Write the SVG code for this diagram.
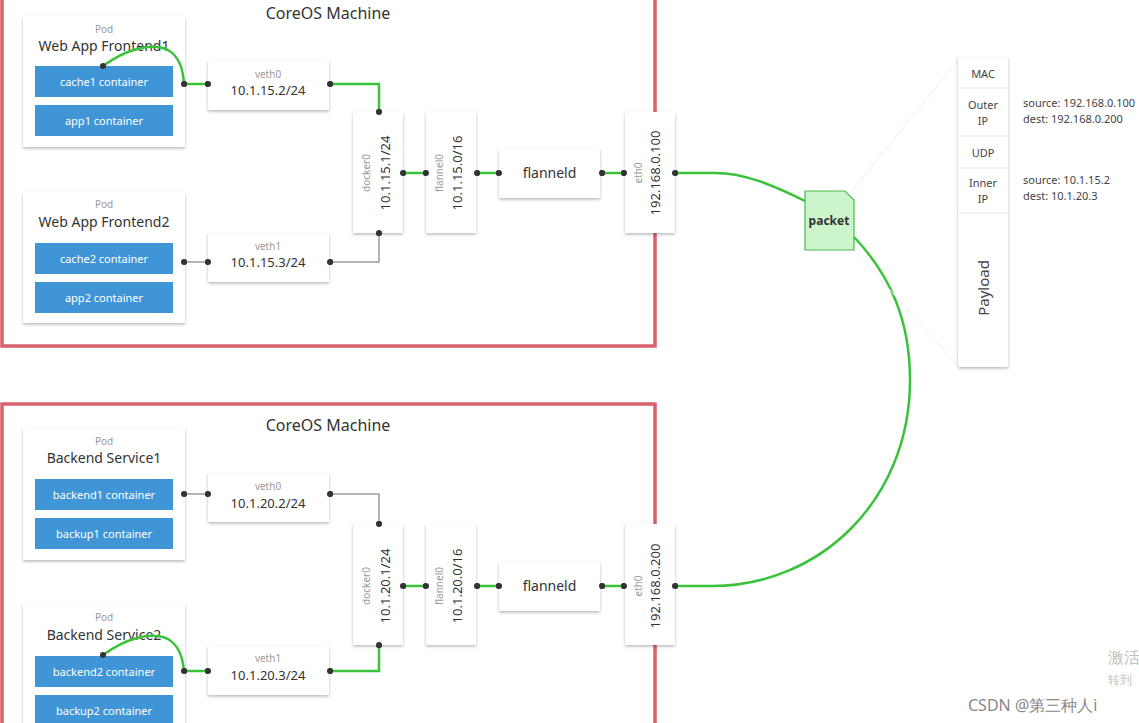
<svg xmlns="http://www.w3.org/2000/svg" width="1139" height="723" viewBox="0 0 1139 723">
<defs>
<filter id="sh" x="-20%" y="-20%" width="140%" height="140%">
<feDropShadow dx="0" dy="1.5" stdDeviation="1.5" flood-color="#000" flood-opacity="0.28"/>
</filter>
<style>
text{font-family:"Noto Sans","Open Sans","Liberation Sans",sans-serif;}
.machine{fill:none;stroke:#d9606c;stroke-width:3.5;}
.title{font-size:16px;fill:#333;text-anchor:middle;}
.box{fill:#fff;filter:url(#sh);}
.pod{fill:#fff;filter:url(#sh);}
.small{font-size:10px;fill:#9a9a9a;text-anchor:middle;}
.name{font-size:14px;fill:#333;text-anchor:middle;}
.ip{font-size:13px;fill:#333;text-anchor:middle;}
.cont{fill:#3f95d6;}
.ct{font-size:11px;fill:#fff;text-anchor:middle;}
.g{fill:none;stroke:#3bc23b;stroke-width:2.5;}
.k{fill:none;stroke:#666;stroke-width:1;}
.dot{fill:#333;}
.pk{font-size:11px;fill:#444;text-anchor:middle;}
.info{font-size:11px;fill:#444;}
.sep{stroke:#e6e6e6;stroke-width:1;}
.faint{stroke:#eeeeee;stroke-width:1;fill:none;}
</style>
</defs>
<rect width="1139" height="723" fill="#fff"/>

<!-- machines -->
<g id="machine1">
<rect class="machine" x="2" y="-10" width="653" height="356"/>
<text class="title" x="328" y="19">CoreOS Machine</text>
</g>
<g id="machine2">
<rect class="machine" x="2" y="404" width="653" height="340"/>
<text class="title" x="328" y="431">CoreOS Machine</text>
</g>

<!-- connectors -->
<g id="connectors">
<path class="g" d="M103,66 C125,50 150,42 168,50 C180,57 183,70 184,84 L208,84"/>
<path class="g" d="M330,84 L379,84 L379,112"/>
<path class="k" d="M184,262 L208,262"/>
<path class="k" d="M330,262 L379,262 L379,233"/>
<path class="g" d="M403,173 L426,173 M477,173 L499,173 M602,173 L624,173"/>
<path class="g" d="M675,173 L715,173 C745,173 775,186 805,201"/>
<path class="g" d="M854,237 C890,275 910,320 910,380 C910,500 820,586 712,586 L675,586"/>
<path class="faint" d="M851,192 L958,60 M854,250 L958,366"/>
<path class="k" d="M184,494 L208,494"/>
<path class="k" d="M330,494 L379,494 L379,524"/>
<path class="g" d="M403,586 L426,586 M477,586 L499,586 M602,586 L624,586"/>
<path class="g" d="M103,655 C125,639 150,631 168,639 C180,646 183,659 184,671 L208,671"/>
<path class="g" d="M330,671 L379,671 L379,645"/>
<g class="dot">
<circle cx="103" cy="66" r="3"/><circle cx="184" cy="84" r="3"/><circle cx="208" cy="84" r="3"/>
<circle cx="330" cy="84" r="3"/><circle cx="379" cy="112" r="3"/>
<circle cx="184" cy="262" r="3"/><circle cx="208" cy="262" r="3"/><circle cx="330" cy="262" r="3"/><circle cx="379" cy="233" r="3"/>
<circle cx="403" cy="173" r="3"/><circle cx="426" cy="173" r="3"/><circle cx="477" cy="173" r="3"/><circle cx="499" cy="173" r="3"/>
<circle cx="602" cy="173" r="3"/><circle cx="624" cy="173" r="3"/><circle cx="675" cy="173" r="3"/>
<circle cx="184" cy="494" r="3"/><circle cx="208" cy="494" r="3"/><circle cx="330" cy="494" r="3"/><circle cx="379" cy="524" r="3"/>
<circle cx="403" cy="586" r="3"/><circle cx="426" cy="586" r="3"/><circle cx="477" cy="586" r="3"/><circle cx="499" cy="586" r="3"/>
<circle cx="602" cy="586" r="3"/><circle cx="624" cy="586" r="3"/><circle cx="675" cy="586" r="3"/>
<circle cx="103" cy="655" r="3"/><circle cx="184" cy="671" r="3"/><circle cx="208" cy="671" r="3"/><circle cx="330" cy="671" r="3"/><circle cx="379" cy="645" r="3"/>
</g>
</g>

<!-- top machine nodes -->
<g id="pod-frontend1">
<rect class="pod" x="23" y="16" width="162" height="131"/>
<text class="small" x="104" y="33">Pod</text>
<text class="name" x="104" y="51">Web App Frontend1</text>
<rect class="cont" x="35" y="66" width="138" height="31"/>
<text class="ct" x="104" y="85.5">cache1 container</text>
<rect class="cont" x="35" y="105" width="138" height="31"/>
<text class="ct" x="104" y="124.5">app1 container</text>
</g>
<path class="g" d="M103,66 C125,50 150,42 168,50 C180,57 183,70 184,84"/>
<circle class="dot" cx="103" cy="66" r="3"/><circle class="dot" cx="184" cy="84" r="3"/>

<g id="pod-frontend2">
<rect class="pod" x="23" y="192" width="162" height="131"/>
<text class="small" x="104" y="208">Pod</text>
<text class="name" x="104" y="227">Web App Frontend2</text>
<rect class="cont" x="35" y="243" width="138" height="31"/>
<text class="ct" x="104" y="262.5">cache2 container</text>
<rect class="cont" x="35" y="282" width="138" height="31"/>
<text class="ct" x="104" y="301.5">app2 container</text>
</g>
<circle class="dot" cx="184" cy="262" r="3"/>

<g id="veth0-a">
<rect class="box" x="208" y="61" width="121" height="49"/>
<text class="small" x="268" y="78">veth0</text>
<text class="ip" x="268" y="95">10.1.15.2/24</text>
</g>
<g id="veth1-a">
<rect class="box" x="208" y="233" width="121" height="49"/>
<text class="small" x="268" y="250">veth1</text>
<text class="ip" x="268" y="267">10.1.15.3/24</text>
</g>
<g id="docker0-a">
<rect class="box" x="353" y="112" width="50" height="121"/>
<text class="small" transform="translate(366,173) rotate(-90)" dominant-baseline="central">docker0</text>
<text class="ip" transform="translate(385,173) rotate(-90)" dominant-baseline="central">10.1.15.1/24</text>
</g>
<g id="flannel0-a">
<rect class="box" x="426" y="112" width="50" height="121"/>
<text class="small" transform="translate(439,173) rotate(-90)" dominant-baseline="central">flannel0</text>
<text class="ip" transform="translate(457,173) rotate(-90)" dominant-baseline="central">10.1.15.0/16</text>
</g>
<g id="flanneld-a">
<rect class="box" x="499" y="149" width="101" height="49"/>
<text class="name" x="549.5" y="178">flanneld</text>
</g>
<g id="eth0-a">
<rect class="box" x="625" y="112" width="50" height="121"/>
<text class="small" transform="translate(638,173) rotate(-90)" dominant-baseline="central">eth0</text>
<text class="ip" transform="translate(655,173) rotate(-90)" dominant-baseline="central">192.168.0.100</text>
</g>

<!-- bottom machine nodes -->
<g id="pod-backend1">
<rect class="pod" x="23" y="429" width="162" height="131"/>
<text class="small" x="104" y="445">Pod</text>
<text class="name" x="104" y="463">Backend Service1</text>
<rect class="cont" x="35" y="479" width="138" height="31"/>
<text class="ct" x="104" y="498.5">backend1 container</text>
<rect class="cont" x="35" y="518" width="138" height="31"/>
<text class="ct" x="104" y="537.5">backup1 container</text>
</g>
<circle class="dot" cx="184" cy="494" r="3"/>
<g id="pod-backend2">
<rect class="pod" x="23" y="604" width="162" height="131"/>
<text class="small" x="104" y="621">Pod</text>
<text class="name" x="104" y="640">Backend Service2</text>
<rect class="cont" x="35" y="656" width="138" height="31"/>
<text class="ct" x="104" y="675.5">backend2 container</text>
<rect class="cont" x="35" y="695" width="138" height="31"/>
<text class="ct" x="104" y="714.5">backup2 container</text>
</g>
<path class="g" d="M103,655 C125,639 150,631 168,639 C180,646 183,659 184,671"/>
<circle class="dot" cx="103" cy="655" r="3"/><circle class="dot" cx="184" cy="671" r="3"/>

<g id="veth0-b">
<rect class="box" x="208" y="473" width="121" height="49"/>
<text class="small" x="268" y="490">veth0</text>
<text class="ip" x="268" y="508">10.1.20.2/24</text>
</g>
<g id="veth1-b">
<rect class="box" x="208" y="646" width="121" height="49"/>
<text class="small" x="268" y="662">veth1</text>
<text class="ip" x="268" y="680">10.1.20.3/24</text>
</g>
<g id="docker0-b">
<rect class="box" x="353" y="524" width="50" height="121"/>
<text class="small" transform="translate(366,586) rotate(-90)" dominant-baseline="central">docker0</text>
<text class="ip" transform="translate(385,586) rotate(-90)" dominant-baseline="central">10.1.20.1/24</text>
</g>
<g id="flannel0-b">
<rect class="box" x="426" y="524" width="50" height="121"/>
<text class="small" transform="translate(439,586) rotate(-90)" dominant-baseline="central">flannel0</text>
<text class="ip" transform="translate(457,586) rotate(-90)" dominant-baseline="central">10.1.20.0/16</text>
</g>
<g id="flanneld-b">
<rect class="box" x="499" y="562" width="101" height="49"/>
<text class="name" x="549.5" y="591">flanneld</text>
</g>
<g id="eth0-b">
<rect class="box" x="625" y="524" width="50" height="121"/>
<text class="small" transform="translate(638,586) rotate(-90)" dominant-baseline="central">eth0</text>
<text class="ip" transform="translate(655,586) rotate(-90)" dominant-baseline="central">192.168.0.200</text>
</g>

<!-- connector dots drawn over boxes -->
<g class="dot">
<circle cx="208" cy="84" r="3"/><circle cx="330" cy="84" r="3"/><circle cx="379" cy="112" r="3"/>
<circle cx="208" cy="262" r="3"/><circle cx="330" cy="262" r="3"/><circle cx="379" cy="233" r="3"/>
<circle cx="403" cy="173" r="3"/><circle cx="426" cy="173" r="3"/><circle cx="477" cy="173" r="3"/><circle cx="499" cy="173" r="3"/>
<circle cx="602" cy="173" r="3"/><circle cx="624" cy="173" r="3"/><circle cx="675" cy="173" r="3"/>
<circle cx="208" cy="494" r="3"/><circle cx="330" cy="494" r="3"/><circle cx="379" cy="524" r="3"/>
<circle cx="403" cy="586" r="3"/><circle cx="426" cy="586" r="3"/><circle cx="477" cy="586" r="3"/><circle cx="499" cy="586" r="3"/>
<circle cx="602" cy="586" r="3"/><circle cx="624" cy="586" r="3"/><circle cx="675" cy="586" r="3"/>
<circle cx="208" cy="671" r="3"/><circle cx="330" cy="671" r="3"/><circle cx="379" cy="645" r="3"/>
</g>

<!-- packet -->
<g id="packet">
<path d="M805,191 L845,191 L854,200 L854,250 L805,250 Z" fill="#ccf5cc" stroke="#4cb84c" stroke-width="1.2"/>
<text x="829" y="225" font-size="12" font-weight="bold" fill="#333" text-anchor="middle">packet</text>
</g>

<g id="packet-structure">
<rect class="box" x="958" y="57" width="50" height="310"/>
<line class="sep" x1="958" y1="88" x2="1008" y2="88"/>
<line class="sep" x1="958" y1="136" x2="1008" y2="136"/>
<line class="sep" x1="958" y1="168" x2="1008" y2="168"/>
<line class="sep" x1="958" y1="213" x2="1008" y2="213"/>
<text class="pk" x="983" y="78">MAC</text>
<text class="pk" x="983" y="109">Outer</text>
<text class="pk" x="983" y="125">IP</text>
<text class="pk" x="983" y="157">UDP</text>
<text class="pk" x="983" y="187">Inner</text>
<text class="pk" x="983" y="203">IP</text>
<text transform="translate(983,288) rotate(-90)" font-size="15" fill="#444" text-anchor="middle" dominant-baseline="central">Payload</text>
</g>
<g id="outer-ip-info">
<text class="info" x="1023" y="107">source: 192.168.0.100</text>
<text class="info" x="1023" y="123">dest: 192.168.0.200</text>
</g>
<g id="inner-ip-info">
<text class="info" x="1023" y="184">source: 10.1.15.2</text>
<text class="info" x="1023" y="200">dest: 10.1.20.3</text>
</g>

<!-- watermark -->
<g id="watermark" font-family="'Noto Sans CJK SC',sans-serif">
<text x="1108" y="663" font-size="16" fill="#c0c0c0" font-family="'Noto Sans CJK SC',sans-serif">激活</text>
<text x="1108" y="684" font-size="12" fill="#c0c0c0" font-family="'Noto Sans CJK SC',sans-serif">转到</text>
<text x="968" y="711" font-size="16" fill="#888" font-family="'Liberation Sans','Noto Sans CJK SC',sans-serif">CSDN @第三种人i</text>
</g>
</svg>
